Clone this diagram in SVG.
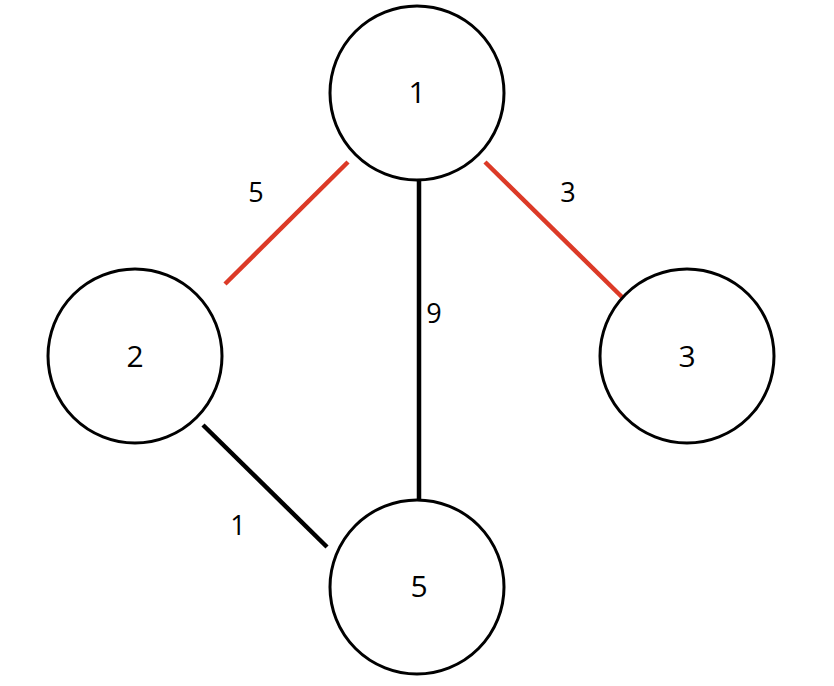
<svg xmlns="http://www.w3.org/2000/svg" width="834" height="686" viewBox="0 0 834 686">
<style>
.node circle{fill:#fff;stroke:#000;stroke-width:3}
.node text{font-family:"Open Sans","Liberation Sans",sans-serif;font-size:30px;fill:#000;text-anchor:middle;dominant-baseline:central}
.edge{stroke-width:4.5;fill:none}
.red{stroke:#dc3a27}
.black{stroke:#000}
.elabel{font-family:"Open Sans","Liberation Sans",sans-serif;font-size:27px;fill:#000;text-anchor:middle;dominant-baseline:central}
</style>
<rect width="834" height="686" fill="#fff"/>
<g id="connectors">
<line class="edge red" x1="348" y1="162" x2="225" y2="284"/>
<line class="edge red" x1="485" y1="162" x2="622" y2="297"/>
<line class="edge black" x1="419" y1="180" x2="419" y2="500"/>
<line class="edge black" x1="203" y1="425" x2="327" y2="547"/>
<text class="elabel" x="256" y="191">5</text>
<text class="elabel" x="568" y="191">3</text>
<text class="elabel" x="434" y="312">9</text>
<text class="elabel" x="238" y="524">1</text>
</g>
<g id="node1" class="node"><circle cx="417" cy="93" r="87"/><text x="417" y="91">1</text></g>
<g id="node2" class="node"><circle cx="135" cy="356" r="87"/><text x="135" y="355">2</text></g>
<g id="node3" class="node"><circle cx="687" cy="356" r="87"/><text x="687" y="355">3</text></g>
<g id="node5" class="node"><circle cx="417" cy="587" r="87"/><text x="419" y="585">5</text></g>
</svg>
